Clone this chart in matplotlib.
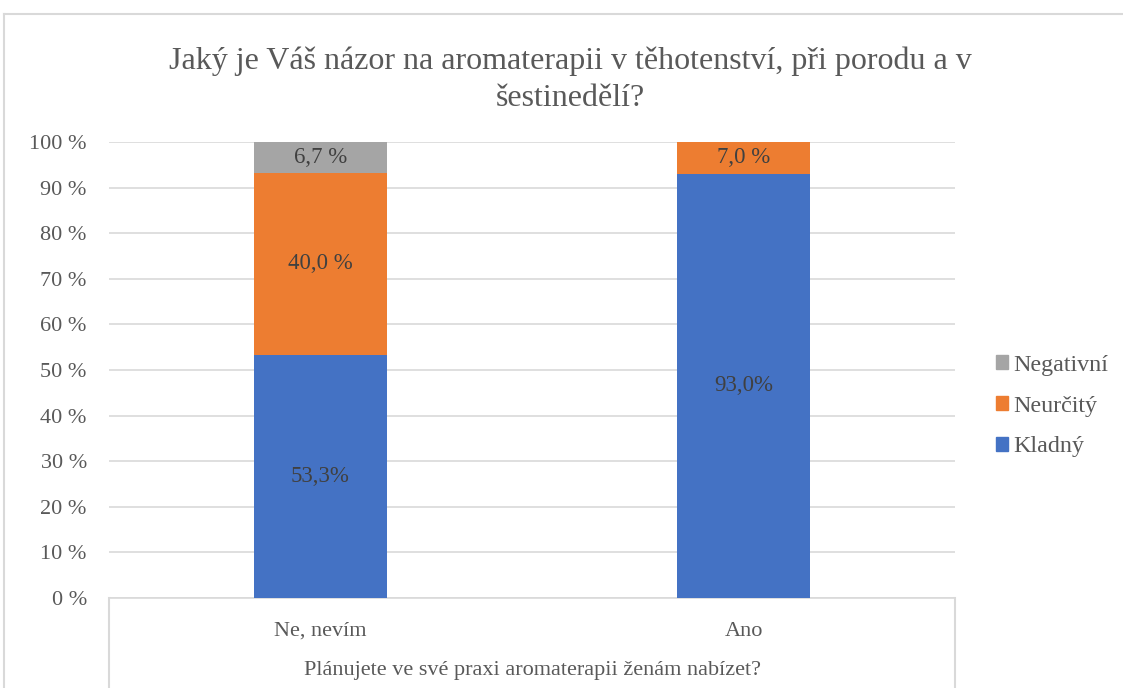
import matplotlib.pyplot as plt
from matplotlib.lines import Line2D
from matplotlib.patches import Patch

plt.rcParams['font.family'] = ['Liberation Serif', 'DejaVu Serif']

# data
categories = ['Ne, nevím', 'Ano']
kladny = [53.3, 93.0]
neurcity = [40.0, 7.0]
negativni = [6.7, 0.0]
kladny_labels = ['53,3%', '93,0%']
neurcity_labels = ['40,0 %', '7,0 %']
negativni_labels = ['6,7 %', '']
series_names = ['Kladný', 'Neurčitý', 'Negativní']
colors = ['#4472C4', '#ED7D31', '#A5A5A5']
yticks = [0, 10, 20, 30, 40, 50, 60, 70, 80, 90, 100]

TEXT = '#595959'
LABEL = '#404040'
GRID = '#d9d9d9'

fig = plt.figure(figsize=(11.23, 6.88), dpi=100)
ax = fig.add_axes([109 / 1123, 1 - 598 / 688, 846 / 1123, 456 / 688])

x = list(range(len(categories)))
w = 0.313
bottom2 = kladny
bottom3 = [a + b for a, b in zip(kladny, neurcity)]
layers = [(kladny, [0, 0], kladny_labels),
          (neurcity, bottom2, neurcity_labels),
          (negativni, bottom3, negativni_labels)]
for (vals, bot, labs), c in zip(layers, colors):
    bars = ax.bar(x, vals, w, bottom=bot, color=c, zorder=3)
    for b, v, lab in zip(bars, vals, labs):
        if v > 0:
            ax.text(b.get_x() + b.get_width() / 2, b.get_y() + v / 2, lab,
                    ha='center', va='center', fontsize=16.5, color=LABEL, zorder=4)

ax.set_xlim(-0.5, 1.5)
ax.set_ylim(0, 100)
ax.set_yticks(yticks)
ax.set_yticklabels([f'{t} %' for t in yticks])
ax.set_xticks(x)
ax.set_xticklabels(categories)
ax.tick_params(axis='y', length=0, pad=16, labelsize=16, labelcolor=TEXT)
ax.tick_params(axis='x', length=0, pad=17, labelsize=16, labelcolor=TEXT)
ax.grid(axis='y', color=GRID, lw=1.2, zorder=0)
ax.set_axisbelow(True)
for s in ['top', 'left', 'right']:
    ax.spines[s].set_visible(False)
ax.spines['bottom'].set_color(GRID)
ax.spines['bottom'].set_linewidth(1.2)
ax.set_xlabel('Plánujete ve své praxi aromaterapii ženám nabízet?',
              fontsize=16, color=TEXT, labelpad=15)

# box lines under the category axis
for xx in [0, 1]:
    ax.plot([xx, xx], [0, -0.3], transform=ax.transAxes, color=GRID,
            lw=1.5, clip_on=False)

# title
fig.text(570 / 1123, 1 - 80 / 688,
         'Jaký je Váš názor na aromaterapii v těhotenství, při porodu a v\nšestinedělí?',
         ha='center', va='center', fontsize=23, color=TEXT, linespacing=1.38)

# legend
handles = [Patch(color=colors[i], label=series_names[i]) for i in [2, 1, 0]]
fig.legend(handles=handles, loc='center left',
           bbox_to_anchor=(974 / 1123, 1 - 406 / 688), frameon=False,
           fontsize=17.3, labelcolor=TEXT, handlelength=0.5, handleheight=0.5,
           handletextpad=0.25, labelspacing=0.83)

# outer chart border
fig.add_artist(Line2D([4 / 1123, 4 / 1123], [0, 1 - 14 / 688],
                      transform=fig.transFigure, color=GRID, lw=1.5))
fig.add_artist(Line2D([4 / 1123, 1], [1 - 14 / 688, 1 - 14 / 688],
                      transform=fig.transFigure, color=GRID, lw=1.5))

fig.savefig('out.png', dpi=100)
